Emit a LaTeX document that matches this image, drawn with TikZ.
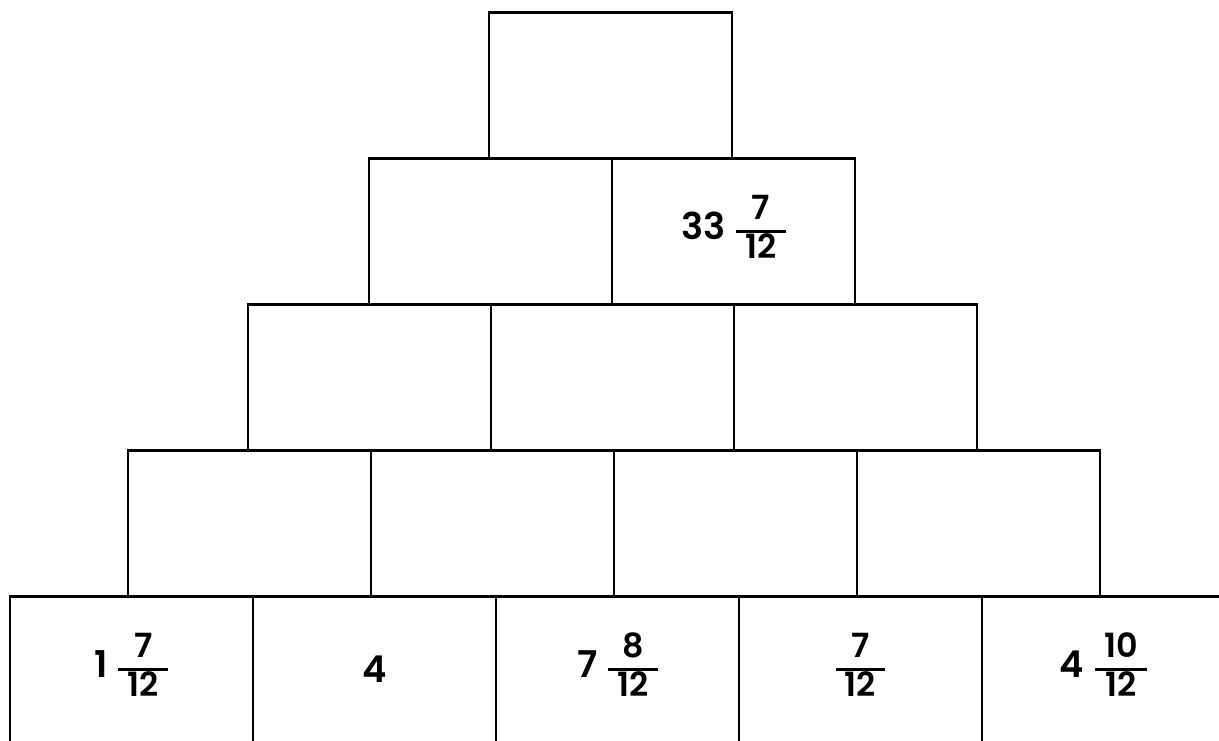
\documentclass[tikz,border=0pt]{standalone}
\usepackage{fontspec}
\setmainfont{Poppins}[BoldFont={Poppins SemiBold}]
\usepackage{tikz}
\usetikzlibrary{positioning}
\newcommand{\fracpart}[2]{{\fontsize{19}{20}\selectfont\setlength{\arrayrulewidth}{1.5pt}\renewcommand{\arraystretch}{1.05}\begin{tabular}[c]{@{\hspace{0.28em}}c@{\hspace{0.28em}}}#1\\\hline #2\end{tabular}}}
\newcommand{\mixnum}[3]{#1\hspace{6pt}\fracpart{#2}{#3}}

\begin{document}
\begin{tikzpicture}[every node/.style={font=\fontsize{21}{23}\selectfont\bfseries}]
\tikzstyle{brick}=[draw,line width=1.5pt,minimum width=4.86cm,minimum height=2.92cm,inner sep=0pt,outer sep=0pt]
\useasboundingbox (0,0.03) rectangle (24.38,14.85);
\clip (0,0.03) rectangle (24.38,14.85);
% bottom row
\node[brick,anchor=south west] (b1) at (0.2,0) {\mixnum{1}{7}{12}};
\node[brick,right=0pt of b1] (b2) {4};
\node[brick,right=0pt of b2] (b3) {\mixnum{7}{8}{12}};
\node[brick,right=0pt of b3] (b4) {\fracpart{7}{12}};
\node[brick,right=0pt of b4] (b5) {\mixnum{4}{10}{12}};
% fourth row
\node[brick,anchor=south,xshift=-0.07cm] (c1) at (b1.north east) {};
\node[brick,right=0pt of c1] (c2) {};
\node[brick,right=0pt of c2] (c3) {};
\node[brick,right=0pt of c3] (c4) {};
% third row
\node[brick,anchor=south,xshift=-0.03cm] (d1) at (c1.north east) {};
\node[brick,right=0pt of d1] (d2) {};
\node[brick,right=0pt of d2] (d3) {};
% second row
\node[brick,anchor=south,xshift=-0.01cm] (e1) at (d1.north east) {};
\node[brick,right=0pt of e1] (e2) {\mixnum{33}{7}{12}};
% top
\node[brick,anchor=south,xshift=-0.03cm] (top) at (e1.north east) {};
\end{tikzpicture}
\end{document}
